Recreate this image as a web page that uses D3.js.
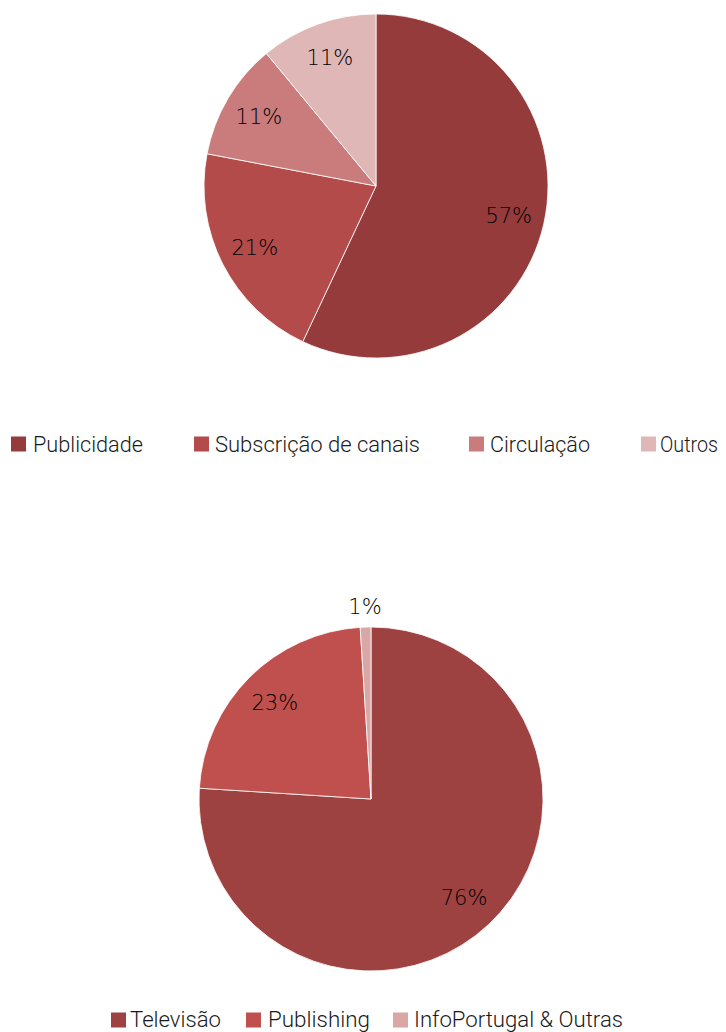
<!DOCTYPE html>
<html>
<head>
<meta charset="utf-8">
<script src="https://cdn.jsdelivr.net/npm/d3@7"></script>
<style>
  html, body { margin: 0; padding: 0; background: #fff; }
  svg { display: block; }
  .lbl { font-family: "DejaVu Sans", sans-serif; font-weight: 200; font-size: 21px; fill: #000; }
  .leg { font-family: Roboto, "Noto Sans", sans-serif; font-weight: 300; fill: #1a1a1a; }
</style>
</head>
<body>
<svg id="chart" width="726" height="1032"></svg>
<script>
// Revenue by source
const revenueCategories = ["Publicidade", "Subscrição de canais", "Circulação", "Outros"];
const revenueValues = [57, 21, 11, 11];
const revenueColors = ["#953b3b", "#b34b4a", "#c97c7b", "#dfb7b6"];

// Revenue by business segment
const segmentCategories = ["Televisão", "Publishing", "InfoPortugal & Outras"];
const segmentValues = [76, 23, 1];
const segmentColors = ["#9e4141", "#c0504d", "#d9a7a6"];

const svg = d3.select("#chart");

function drawPie(cfg) {
  const g = svg.append("g").attr("transform", `translate(${cfg.cx},${cfg.cy})`);
  const pie = d3.pie().sort(null).value(d => d.value);
  const arcs = pie(cfg.categories.map((c, i) => ({ name: c, value: cfg.values[i] })));
  const arc = d3.arc().innerRadius(0).outerRadius(cfg.r);
  const color = d3.scaleOrdinal().domain(cfg.categories).range(cfg.colors);

  g.selectAll("path").data(arcs).join("path")
    .attr("d", arc)
    .attr("fill", d => color(d.data.name))
    .attr("stroke", "#fff")
    .attr("stroke-width", 0.8);

  const inner = d3.arc().innerRadius(cfg.labelR).outerRadius(cfg.labelR);
  const outer = d3.arc().innerRadius(cfg.r + 20).outerRadius(cfg.r + 20);
  g.selectAll("text").data(arcs).join("text")
    .attr("class", "lbl")
    .attr("text-anchor", "middle")
    .attr("dominant-baseline", "central")
    .attr("transform", d => {
      const small = d.endAngle - d.startAngle < 0.2;
      const [x, y] = (small ? outer : inner).centroid(d);
      return `translate(${x},${y})`;
    })
    .text(d => d.data.value + "%");

  // legend
  const lg = svg.append("g");
  const items = lg.selectAll("g").data(cfg.categories).join("g")
    .attr("transform", (d, i) => `translate(${cfg.legendX[i]},${cfg.legendY})`);
  items.append("rect")
    .attr("x", 0).attr("y", -7.5).attr("width", 15).attr("height", 15)
    .attr("fill", d => color(d));
  items.append("text")
    .attr("class", "leg")
    .style("font-size", cfg.fontSize + "px")
    .attr("x", (d, i) => cfg.textGap[i])
    .attr("y", cfg.baseline)
    .attr("textLength", (d, i) => cfg.legendW[i])
    .attr("lengthAdjust", "spacingAndGlyphs")
    .text(d => d);
}

drawPie({
  categories: revenueCategories, values: revenueValues, colors: revenueColors,
  cx: 376, cy: 186, r: 172, labelR: 136,
  legendY: 444, legendX: [11, 194, 469, 641],
  legendW: [110, 205, 100, 58], textGap: [22, 21, 21, 19],
  fontSize: 22, baseline: 8
});

drawPie({
  categories: segmentCategories, values: segmentValues, colors: segmentColors,
  cx: 371, cy: 799, r: 172, labelR: 136,
  legendY: 1020, legendX: [111, 246, 393],
  legendW: [91, 102, 209], textGap: [19, 22, 21],
  fontSize: 22, baseline: 7
});
</script>
</body>
</html>
